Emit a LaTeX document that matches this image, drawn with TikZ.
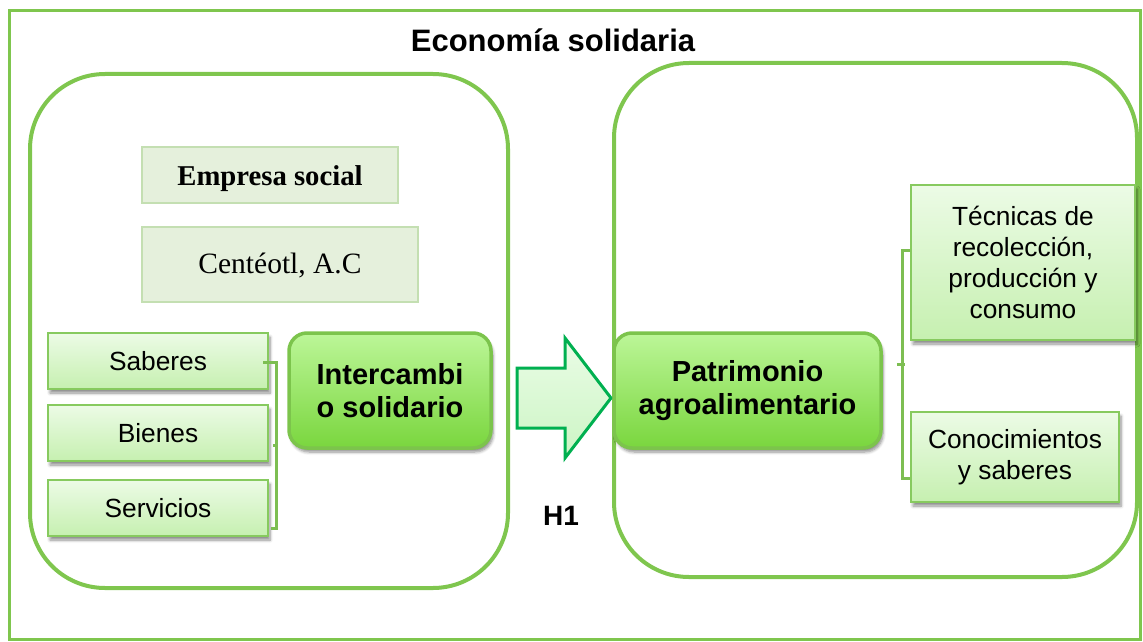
\documentclass[tikz,border=0pt]{standalone}
\usepackage{fontspec}
\setmainfont{Liberation Serif}
\newfontfamily\arial{Liberation Sans}
\usetikzlibrary{shadows.blur,calc}
\definecolor{frameg}{RGB}{127,198,78}
\definecolor{brkg}{RGB}{125,190,82}
\definecolor{smallborder}{RGB}{135,202,95}
\definecolor{smalltop}{RGB}{236,251,230}
\definecolor{smallbot}{RGB}{198,240,176}
\definecolor{bigtop}{RGB}{188,246,152}
\definecolor{bigbot}{RGB}{122,214,62}
\definecolor{bigborder}{RGB}{124,196,76}
\definecolor{palefill}{RGB}{229,240,220}
\definecolor{paleborder}{RGB}{196,223,178}
\definecolor{arrowg}{RGB}{0,176,80}
\definecolor{arrowtop}{RGB}{234,252,230}
\definecolor{arrowbot}{RGB}{204,245,196}
\tikzset{
  frame/.style={draw=frameg, line width=4pt},
  palebox/.style={draw=paleborder, line width=1.5pt, fill=palefill, inner sep=0pt, align=center},
  smallbox/.style={draw=smallborder, line width=2pt, top color=smalltop, bottom color=smallbot,
    inner sep=0pt, align=center, font=\arial\fontsize{26.3}{31}\selectfont,
    blur shadow={shadow xshift=2pt, shadow yshift=-4pt, shadow blur steps=6, shadow blur radius=3pt, shadow opacity=45}},
  bigbox/.style={draw=bigborder, line width=3.5pt, rounded corners=18pt, top color=bigtop, bottom color=bigbot,
    inner sep=0pt, align=center, font=\arial\bfseries\fontsize{29}{33}\selectfont,
    blur shadow={shadow xshift=2pt, shadow yshift=-4pt, shadow blur steps=6, shadow blur radius=3pt, shadow opacity=45}},
  brk/.style={draw=brkg, line width=3pt},
}
\begin{document}
\begin{tikzpicture}[x=1pt,y=-1pt]
\useasboundingbox (0,0) rectangle (1143,642);
% outer frame
\draw[draw=frameg, line width=3pt] (9,11) rectangle (1140,639);
\node[font=\arial\bfseries\fontsize{31}{36}\selectfont, anchor=base, inner sep=0pt] (title) at (553,52) {Economía solidaria};
% rounded containers
\draw[frame, rounded corners=75pt] (30,74) rectangle (508,588);
\draw[frame, rounded corners=75pt] (614,63) rectangle (1137,577);
% left content
\node[palebox, minimum width=256pt, minimum height=56pt, text height=24pt, text depth=4pt, font=\bfseries\fontsize{28.7}{32}\selectfont] (emp) at (270,175) {Empresa social};
\node[palebox, minimum width=276pt, minimum height=75pt, text height=22pt, text depth=5pt, font=\fontsize{29.5}{33}\selectfont] (cen) at (280,264.5) {Centéotl, A.C};
\node[smallbox, minimum width=220pt, minimum height=56pt] (sab) at (158,361) {Saberes};
\node[smallbox, minimum width=220pt, minimum height=56pt] (bie) at (158,433) {Bienes};
\node[smallbox, minimum width=220pt, minimum height=56pt] (ser) at (158,508) {Servicios};
\node[bigbox, minimum width=202pt, minimum height=115pt] (int) at (390,390.5) {Intercambi\\o solidario};
% bracket left
\draw[brk] ($(sab.east)+(-6,1)$) -- ($(sab.east)+(7,1)$) -- ($(ser.east)+(7,20)$) -- ($(ser.east)+(2,20)$);
\draw[brk] ($(int.west)+(-14,54.5)$) coordinate (lm) -- ($(int.west)+(-9,54.5)$);
% arrow
\draw[draw=arrowg, line width=3pt, top color=arrowtop, bottom color=arrowbot, line join=miter]
  (517,368) -- (565,368) -- (565,338) -- (611,398) -- (565,458) -- (565,428) -- (517,428) -- cycle;
\node[font=\arial\bfseries\fontsize{28}{32}\selectfont, inner sep=0pt] (h1) at (561,516) {H1};
% right content
\node[bigbox, minimum width=267pt, minimum height=115pt] (pat) at (747.5,390.5) {Patrimonio\\agroalimentario};
\node[smallbox, minimum width=224pt, minimum height=155pt] (tec) at (1023,262.5) {Técnicas de\\recolección,\\producción y\\consumo};
\node[smallbox, minimum width=208pt, minimum height=90pt] (con) at (1015,457) {Conocimientos\\y saberes};
% bracket right
\draw[brk] ($(pat.east)+(14,-26.5)$) -- ($(pat.east)+(22,-26.5)$);
\draw[brk] ($(tec.west)+(0,-12.5)$) -- ($(tec.west)+(-8,-12.5)$) -- ($(con.west)+(-8,21)$) -- ($(con.west)+(0,21)$);
\end{tikzpicture}
\end{document}
